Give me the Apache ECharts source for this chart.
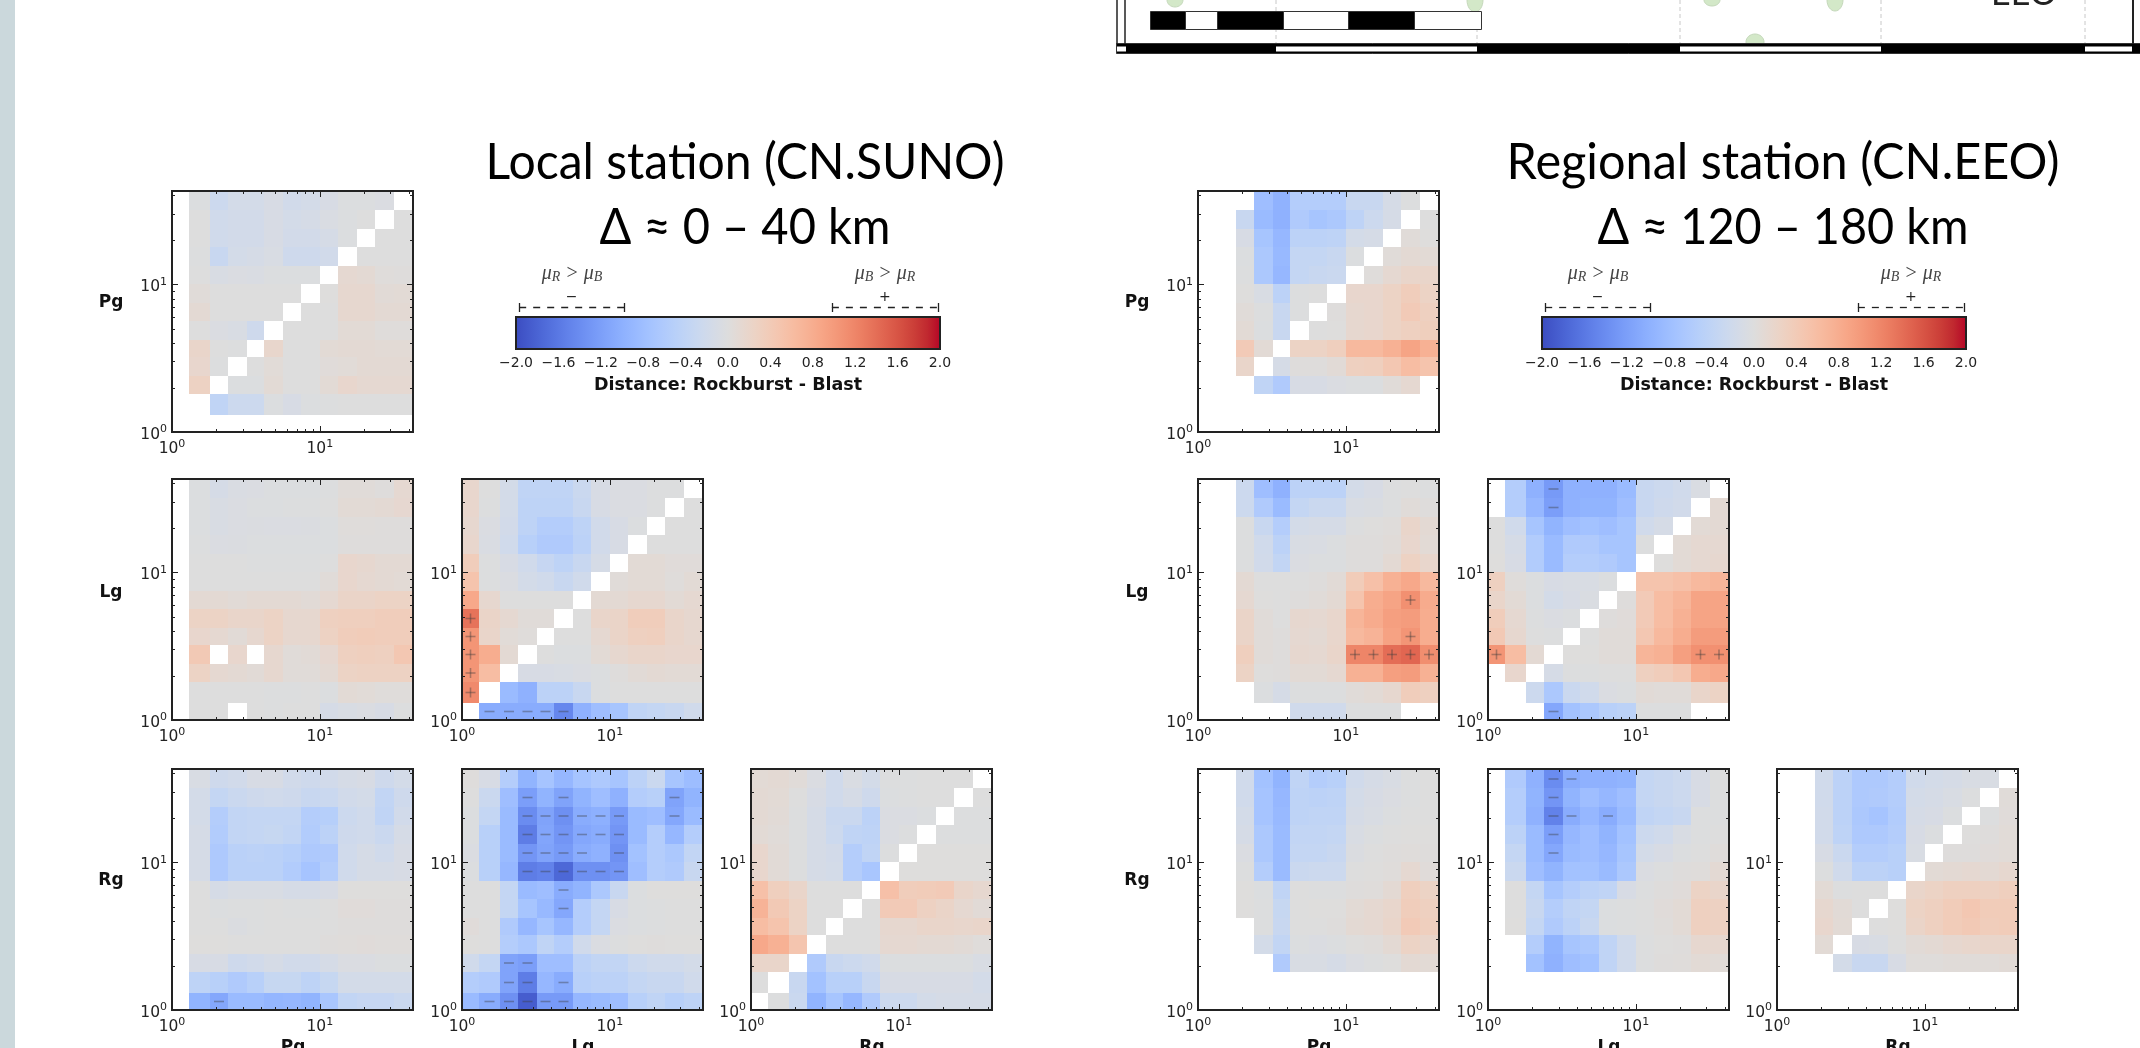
<!DOCTYPE html>
<html><head><meta charset="utf-8">
<style>html,body{margin:0;padding:0;background:#fff;overflow:hidden}#c{width:2140px;height:1048px;filter:blur(0.5px)}</style>
<script src="https://cdn.jsdelivr.net/npm/echarts@6/dist/echarts.min.js"></script>
</head><body><div id="c"></div>
<script>
const _ = null;
// Bin edges shared by every panel (log-spaced), rows below are listed top row first, 13 columns.
const binEdges = [1,1.3,1.8,2.4,3.2,4.2,5.6,7.5,10,13.3,17.8,23.7,31.6,42.2];
const tickValues = [1,2,3,4,5,6,7,8,9,10,20,30,40];
const colorbarTicks = [-2,-1.6,-1.2,-0.8,-0.4,0,0.4,0.8,1.2,1.6,2];
const bracketRanges = [[-1.97,-0.98],[0.98,1.98]];
const phases = ['Pg','Lg','Rg'];
const stations = ['Local station (CN.SUNO)','Regional station (CN.EEO)'];
const distances = ['Δ ≈ 0 – 40 km','Δ ≈ 120 – 180 km'];
const coolwarm = [[59,76,192],[68,90,204],[77,104,215],[87,117,225],[98,130,234],[108,142,241],[119,154,247],[130,165,251],[141,176,254],[152,185,255],[163,194,255],[174,201,253],[184,208,249],[194,213,244],[204,217,238],[213,219,230],[221,221,221],[229,216,209],[236,211,197],[241,204,185],[245,196,173],[247,187,160],[247,177,148],[247,166,135],[244,154,123],[241,141,111],[236,127,99],[229,112,88],[222,96,77],[213,80,66],[203,62,56],[192,40,47],[180,4,38]];

const localPgPg = [
[_,-.03,-.25,-.15,-.15,-.1,-.18,-.15,-.1,-.03,-.03,-.05,_],
[_,0,-.2,-.17,-.17,-.1,-.15,-.13,-.07,-.03,0,_,0],
[_,0,-.2,-.17,-.17,-.1,-.17,-.17,-.13,-.03,_,0,0],
[_,-.02,-.3,-.15,-.12,-.08,-.22,-.22,-.18,_,0,0,0],
[_,0,-.08,-.05,-.07,-.03,-.03,-.03,_,.12,.1,.03,.02],
[_,.05,0,0,0,0,0,_,.01,.15,.15,.07,.08],
[_,.1,0,0,0,0,_,0,0,.15,.15,.1,.1],
[_,0,-.05,-.08,-.22,_,0,0,0,.08,.08,.03,.03],
[_,.2,0,-.02,_,.18,0,0,.08,.1,.1,.08,.08],
[_,.17,-.02,_,0,.06,0,0,.04,.06,.1,.1,.1],
[_,.27,_,-.03,-.03,.08,0,0,.08,.17,.13,.13,.13],
[_,_,-.4,-.25,-.25,-.03,-.1,-.03,-.01,0,0,0,0],
[_,_,_,_,_,_,_,_,_,_,_,_,_]];
const localLgPg = [
[_,-.03,-.12,-.07,-.05,-.03,-.03,-.03,-.02,.05,.05,.02,.12],
[_,-.03,-.08,-.05,-.03,-.03,-.02,-.02,0,.08,.08,.1,.14],
[_,-.03,-.08,-.05,-.04,-.05,-.05,-.04,-.03,.03,.03,.02,.02],
[_,-.02,-.05,-.04,-.03,-.03,-.03,-.03,-.03,.02,.02,.02,.02],
[_,0,0,0,-.02,-.02,-.01,-.02,0,.17,.15,.1,.1],
[_,0,0,0,0,0,0,0,.05,.17,.12,.1,.08],
[_,.1,.1,.07,.1,.1,.1,.07,.13,.22,.22,.25,.25],
[_,.25,.25,.2,.2,.25,.15,.15,.3,.32,.32,.35,.35],
[_,.17,.12,.07,.15,.25,.15,.15,.27,.35,.37,.35,.35],
[_,.42,_,.17,_,.15,.05,.07,.14,.3,.32,.3,.45],
[_,.25,.12,.1,.07,.15,.05,.05,.1,.25,.27,.27,.27],
[_,0,0,0,0,-.02,-.02,0,-.03,.08,.06,.03,.03],
[_,0,0,_,0,-.02,0,0,-.12,-.08,-.05,-.1,-.02]];
const localLgLg = [
[.17,0,-.15,-.4,-.4,-.4,-.28,-.1,-.05,-.05,-.02,-.02,_],
[.17,-.02,-.15,-.42,-.42,-.42,-.3,-.1,-.05,-.05,-.02,_,0],
[.15,-.05,-.17,-.42,-.55,-.55,-.42,-.18,-.1,-.03,_,0,0],
[.17,-.07,-.2,-.5,-.6,-.6,-.45,-.18,-.1,_,0,0,0],
[.35,-.02,-.1,-.2,-.33,-.42,-.3,-.12,_,.08,.08,.04,.04],
[.5,-.02,-.05,-.15,-.2,-.3,-.2,_,.05,.08,.08,.03,.08],
[.85,.15,0,0,0,0,_,.1,.1,.15,.15,.08,.12],
[1.35,.22,.12,.05,.05,_,0,.2,.22,.35,.35,.2,.15],
[1.05,.2,.06,.03,_,0,0,.12,.22,.3,.32,.2,.15],
[1.05,.8,.1,_,0,-.03,-.03,.08,.15,.2,.2,.17,.17],
[1.05,.6,_,-.1,-.1,-.08,-.05,-.03,.02,.07,.1,.08,.08],
[1.15,_,-.85,-.98,-.45,-.45,-.3,-.03,0,0,0,0,0],
[_,-1.05,-1.05,-1.05,-1.05,-1.45,-.98,-.8,-.7,-.4,-.35,-.3,-.2]];
const localRgPg = [
[_,-.08,-.22,-.18,-.1,-.1,-.18,-.22,-.18,-.12,-.1,-.22,-.15],
[_,-.15,-.35,-.28,-.22,-.2,-.22,-.3,-.28,-.18,-.15,-.38,-.22],
[_,-.15,-.55,-.38,-.35,-.35,-.35,-.55,-.52,-.25,-.2,-.4,-.18],
[_,-.13,-.58,-.38,-.35,-.32,-.38,-.58,-.45,-.22,-.2,-.28,-.13],
[_,-.13,-.62,-.47,-.45,-.47,-.52,-.62,-.6,-.2,-.13,-.2,-.1],
[_,-.13,-.62,-.47,-.47,-.47,-.58,-.72,-.55,-.2,-.13,-.13,-.1],
[_,0,-.12,-.08,-.08,-.08,-.12,-.12,-.1,.01,.01,.01,.01],
[_,0,-.03,-.02,-.02,0,-.02,-.02,0,.04,.04,.02,.02],
[_,0,0,-.04,-.02,0,0,0,0,.02,.02,.02,.02],
[_,.01,.01,0,0,0,0,0,.02,.03,.04,.03,.03],
[_,-.1,-.1,-.22,-.18,-.13,-.18,-.18,-.13,-.05,-.05,-.03,-.03],
[_,-.42,-.5,-.6,-.5,-.32,-.32,-.42,-.32,-.15,-.15,-.15,-.15],
[_,-.95,-1.1,-.85,-.85,-.92,-.9,-.95,-.68,-.38,-.33,-.33,-.28]];
const localRgLg = [
[.02,-.1,-.55,-.95,-.72,-.9,-.72,-.62,-.7,-.45,-.28,-.7,-.82],
[0,-.28,-.8,-1.2,-.95,-1.15,-.95,-.8,-.98,-.55,-.5,-1.15,-.95],
[-.03,-.35,-.85,-1.4,-1.15,-1.35,-1.05,-1.0,-1.25,-.85,-.8,-1.1,-.85],
[-.03,-.5,-.85,-1.55,-1.12,-1.3,-1.1,-1.05,-1.3,-.85,-.55,-.9,-.55],
[-.05,-.5,-.85,-1.3,-1.15,-1.25,-1.05,-.98,-1.35,-.75,-.55,-.65,-.38],
[-.03,-.5,-.9,-1.55,-1.5,-1.75,-1.35,-1.35,-1.3,-.8,-.55,-.6,-.3],
[0,0,-.35,-.85,-.8,-1.05,-.95,-.65,-.3,-.03,.01,.01,.01],
[0,0,-.35,-.7,-.88,-1.1,-.55,-.35,-.1,-.03,-.02,0,0],
[.04,0,-.6,-.9,-.7,-.9,-.55,-.35,-.05,-.03,-.02,0,0],
[.01,0,-.55,-.65,-.4,-.55,-.2,-.05,-.02,.01,.02,.01,.01],
[-.2,-.35,-1.15,-1.2,-.8,-.8,-.45,-.38,-.38,-.25,-.2,-.2,-.15],
[-.55,-.6,-1.15,-1.55,-.9,-1.05,-.5,-.45,-.45,-.35,-.3,-.3,-.2],
[-.85,-1.05,-1.35,-1.85,-1.25,-1.25,-.9,-.85,-.8,-.5,-.4,-.5,-.42]];
const localRgRg = [
[.08,.1,.05,-.05,-.2,-.07,-.15,-.02,-.02,0,0,0,_],
[.1,.08,0,-.1,-.2,-.13,-.22,-.03,-.02,0,0,_,0],
[.1,.07,-.01,-.13,-.28,-.28,-.45,-.05,-.05,-.03,_,-.01,-.01],
[.08,.05,-.02,-.13,-.25,-.4,-.42,-.05,-.02,_,-.02,-.02,-.02],
[.17,.07,-.02,-.13,-.17,-.55,-.4,-.02,_,.01,.01,.01,.01],
[.17,.07,-.01,-.13,-.15,-.55,-.68,_,.01,.01,.01,.01,.01],
[.55,.32,.2,0,0,0,_,.55,.35,.38,.4,.2,.15],
[.72,.42,.25,0,0,_,0,.4,.4,.28,.22,.12,.07],
[.6,.5,.25,0,_,0,0,.15,.15,.2,.2,.18,.2],
[.85,.75,.48,_,0,0,0,.12,.12,.1,.1,.07,.03],
[.2,.2,_,-.6,-.3,-.25,-.2,-.03,-.03,-.03,-.03,-.03,-.08],
[0,_,-.3,-.75,-.5,-.5,-.3,-.1,-.1,-.1,-.1,-.1,-.15],
[_,-.01,-.28,-.95,-.7,-.9,-.6,-.25,-.25,-.15,-.12,-.13,-.13]];
const regionalPgPg = [
[_,_,_,-.8,-.97,-.55,-.55,-.55,-.3,-.3,-.12,-.02,_],
[_,_,-.3,-.85,-.98,-.6,-.7,-.65,-.42,-.25,-.12,_,0],
[_,_,-.1,-.7,-.9,-.45,-.45,-.42,-.15,-.12,_,.05,.01],
[_,_,-.03,-.65,-.88,-.35,-.35,-.3,-.03,_,.05,.1,.08],
[_,_,-.02,-.65,-.9,-.35,-.3,-.28,_,.03,.12,.2,.2],
[_,_,.01,-.08,-.45,-.02,0,_,.17,.17,.25,.35,.25],
[_,_,.05,-.02,-.3,-.02,_,.02,.15,.17,.25,.4,.3],
[_,_,.08,-.03,-.3,_,0,.01,.15,.17,.25,.3,.33],
[_,_,.4,.08,_,.25,.25,.32,.65,.65,.75,.9,.75],
[_,_,.2,_,-.12,.02,.02,.07,.3,.32,.45,.6,.5],
[_,_,_,-.4,-.6,-.1,-.1,-.05,-.03,-.03,.05,.12,_],
[_,_,_,_,_,_,_,_,_,_,_,_,_],
[_,_,_,_,_,_,_,_,_,_,_,_,_]];
const regionalLgPg = [
[_,_,-.25,-.8,-.98,-.45,-.45,-.45,-.15,-.1,-.02,0,-.01],
[_,_,-.25,-.6,-.85,-.35,-.28,-.28,-.08,-.06,-.02,.05,.02],
[_,_,-.02,-.3,-.55,-.15,-.12,-.12,-.01,.01,.03,.2,.1],
[_,_,-.02,-.2,-.45,-.08,-.07,-.03,.02,.02,.05,.17,.08],
[_,_,-.02,-.18,-.38,-.05,-.03,-.03,.02,.02,.1,.27,.18],
[_,_,.1,0,0,0,.02,.07,.38,.55,.75,.85,.65],
[_,_,.12,.01,0,.02,.05,.1,.5,.8,.9,1.1,.82],
[_,_,.22,.05,0,.15,.12,.18,.7,.82,.95,.98,.8],
[_,_,.22,.05,.02,.12,.1,.18,.65,.72,.92,1.05,.8],
[_,_,.32,.05,.02,.15,.12,.2,1.2,1.2,1.4,1.45,1.12],
[_,_,.25,.01,.02,.08,.08,.13,.75,.75,.95,.98,.75],
[_,_,_,-.03,-.12,-.02,-.02,-.02,.05,.08,.15,.35,.3],
[_,_,_,_,_,-.2,-.2,-.2,-.02,-.02,-.02,_,_]];
const regionalLgLg = [
[_,-.55,-.98,-1.25,-.98,-.98,-.98,-.85,-.3,-.25,-.2,-.07,_],
[_,-.55,-.9,-1.2,-.98,-.95,-.95,-.8,-.3,-.22,-.18,_,.1],
[0,-.2,-.7,-.95,-.8,-.75,-.8,-.7,-.2,-.12,_,.08,.1],
[0,-.12,-.58,-.85,-.6,-.6,-.7,-.7,-.02,_,.08,.12,.12],
[.01,-.1,-.58,-.85,-.55,-.55,-.6,-.7,_,.01,.08,.12,.15],
[.3,.03,-.03,-.1,-.08,-.08,-.03,_,.5,.5,.55,.65,.7],
[.2,.08,-.03,-.15,-.1,-.06,_,.02,.4,.6,.7,.9,.9],
[.35,.12,-.02,-.05,-.03,_,.02,.04,.4,.6,.75,.9,.9],
[.42,.15,0,-.01,_,0,.05,.05,.45,.65,.8,.98,.98],
[1.05,.6,.1,_,.01,.01,.05,.05,.7,.75,.95,1.1,1.1],
[_,.17,_,-.12,-.01,-.01,0,0,.3,.35,.45,.8,.85],
[_,_,-.25,-.65,-.28,-.2,-.05,-.03,.07,.05,.05,.2,.25],
[_,_,_,-1.1,-.75,-.65,-.5,-.45,-.02,-.01,-.01,_,_]];
const regionalRgPg = [
[_,_,-.2,-.75,-.95,-.4,-.55,-.5,-.2,-.12,-.08,-.01,0],
[_,_,-.2,-.72,-.9,-.42,-.45,-.42,-.15,-.1,-.05,-.01,0],
[_,_,-.15,-.72,-.88,-.42,-.4,-.4,-.13,-.08,-.03,0,0],
[_,_,-.12,-.65,-.85,-.38,-.38,-.35,-.08,-.03,0,.01,.01],
[_,_,-.05,-.65,-.85,-.35,-.35,-.3,-.04,0,.02,.03,.02],
[_,_,-.02,-.55,-.85,-.28,-.25,-.25,0,.01,.03,.12,.04],
[_,_,.01,-.03,-.4,0,-.01,-.01,.02,.03,.1,.32,.25],
[_,_,.01,-.02,-.32,0,.01,.01,.08,.12,.18,.35,.3],
[_,_,_,-.02,-.3,0,0,.02,.1,.12,.2,.4,.32],
[_,_,_,-.15,-.38,-.03,-.05,-.03,.01,.03,.1,.25,.2],
[_,_,_,_,-.6,-.08,-.08,-.13,-.05,-.01,.01,.1,.08],
[_,_,_,_,_,_,_,_,_,_,_,_,_],
[_,_,_,_,_,_,_,_,_,_,_,_,_]];
const regionalRgLg = [
[_,-.6,-.98,-1.4,-1.05,-.98,-.98,-.95,-.35,-.3,-.25,-.1,-.02],
[_,-.55,-.95,-1.3,-.95,-.8,-.9,-.8,-.35,-.3,-.25,-.1,-.02],
[_,-.55,-.98,-1.5,-1.05,-.9,-1.05,-.85,-.4,-.35,-.3,-.02,-.02],
[_,-.45,-.85,-1.2,-.9,-.8,-.95,-.75,-.25,-.2,-.08,-.02,0],
[_,-.35,-.85,-1.1,-.85,-.8,-.9,-.7,-.15,-.1,-.03,0,.03],
[_,-.28,-.8,-.95,-.75,-.75,-.85,-.65,-.05,-.02,.02,.03,.1],
[_,0,-.35,-.7,-.55,-.45,-.4,-.1,-.01,.02,.04,.25,.2],
[_,0,-.3,-.55,-.4,-.35,-.03,-.02,0,.04,.08,.3,.28],
[_,.01,-.35,-.6,-.45,-.3,-.03,-.01,0,.03,.08,.3,.28],
[_,_,-.55,-.95,-.7,-.65,-.4,-.2,-.01,.01,.02,.15,.15],
[_,_,-.75,-.98,-.8,-.75,-.4,-.2,-.02,.02,.03,.08,.06],
[_,_,_,_,_,_,_,_,_,_,_,_,_],
[_,_,_,_,_,_,_,_,_,_,_,_,_]];
const regionalRgRg = [
[_,_,-.2,-.45,-.62,-.62,-.55,-.2,-.15,-.12,-.08,-.08,_],
[_,_,-.2,-.45,-.62,-.6,-.55,-.15,-.12,-.08,-.02,_,.05],
[_,_,-.18,-.45,-.65,-.72,-.58,-.12,-.1,-.03,_,-.01,.04],
[_,_,-.18,-.42,-.62,-.62,-.55,-.1,-.03,_,.01,.02,.06],
[_,_,-.1,-.28,-.55,-.55,-.5,-.08,_,.02,.02,.04,.06],
[_,_,-.02,-.2,-.45,-.45,-.5,_,.08,.1,.12,.1,.15],
[_,_,.08,-.01,0,0,_,.2,.25,.3,.3,.28,.32],
[_,_,.15,.07,0,_,.01,.25,.3,.38,.45,.38,.38],
[_,_,.17,.08,_,0,.01,.22,.3,.38,.42,.35,.38],
[_,_,.08,_,-.1,-.08,0,.07,.1,.15,.18,.2,.2],
[_,_,_,-.15,-.3,-.3,-.1,.03,.03,.05,.05,.05,.07],
[_,_,_,_,_,_,_,_,_,_,_,_,_],
[_,_,_,_,_,_,_,_,_,_,_,_,_]];

// ---- layout & style (separate from the values) ----
const AXIS_MAX = 42.7;
const colLeft = [[172,462,751],[1198,1488,1777]];
const rowTop = [191,479,769];
const SIZE = 241;
const panels = [
 [localPgPg,0,0,0],[localLgPg,0,1,0],[localLgLg,0,1,1],[localRgPg,0,2,0],[localRgLg,0,2,1],[localRgRg,0,2,2],
 [regionalPgPg,1,0,0],[regionalLgPg,1,1,0],[regionalLgLg,1,1,1],[regionalRgPg,1,2,0],[regionalRgLg,1,2,1],[regionalRgRg,1,2,2]
];
const FG='#222', SANS='"DejaVu Sans"';

function cw(v){
  const t=Math.max(0,Math.min(1,(v+2)/4))*(coolwarm.length-1), i=Math.min(coolwarm.length-2,Math.floor(t)), f=t-i;
  const c=coolwarm[i].map((a,k)=>Math.round(a+(coolwarm[i+1][k]-a)*f));
  return `rgb(${c[0]},${c[1]},${c[2]})`;
}
function heatItem(params,api){
  const a=api.coord([api.value(0),api.value(2)]), b=api.coord([api.value(1),api.value(3)]), v=api.value(4);
  const x0=Math.round(a[0]),x1=Math.round(b[0]),y1=Math.round(a[1]),y0=Math.round(b[1]);
  const ch=[{type:'rect',shape:{x:x0,y:y0,width:x1-x0,height:y1-y0},style:{fill:cw(v)}}];
  const cx=(x0+x1)/2,cy=(y0+y1)/2,ms=5,ls={stroke:'rgba(60,60,60,0.4)',lineWidth:1.6,fill:null};
  if(Math.abs(v)>=1) ch.push({type:'line',shape:{x1:cx-ms,y1:cy,x2:cx+ms,y2:cy},style:ls});
  if(v>=1) ch.push({type:'line',shape:{x1:cx,y1:cy-ms,x2:cx,y2:cy+ms},style:ls});
  return {type:'group',children:ch};
}
function tickItem(params,api){
  const cs=params.coordSys,t=api.value(0),p=api.coord([t,t]),L=(t===1||t===10)?6:3,ch=[];
  const ls={stroke:FG,lineWidth:1,fill:null};
  const X=Math.round(p[0])+.5,Y=Math.round(p[1])+.5;
  ch.push({type:'line',shape:{x1:X,y1:cs.y+cs.height,x2:X,y2:cs.y+cs.height-L},style:ls});
  ch.push({type:'line',shape:{x1:X,y1:cs.y,x2:X,y2:cs.y+L},style:ls});
  ch.push({type:'line',shape:{x1:cs.x,y1:Y,x2:cs.x+L,y2:Y},style:ls});
  ch.push({type:'line',shape:{x1:cs.x+cs.width,y1:Y,x2:cs.x+cs.width-L,y2:Y},style:ls});
  if(params.dataIndex===0) ch.push({type:'rect',shape:{x:cs.x,y:cs.y,width:cs.width,height:cs.height},style:{fill:null,stroke:'#222',lineWidth:2}});
  return {type:'group',children:ch};
}
function supLabel(v){
  const e=Math.log10(v);
  return Math.abs(e-Math.round(e))<1e-6 ? `{b|10}{s|${Math.round(e)}}` : '';
}
const grids=[],xAxes=[],yAxes=[],series=[];
const labelRich={b:{fontFamily:SANS,fontSize:15.5,color:FG,padding:[5,0,0,0]},s:{fontFamily:SANS,fontSize:11,color:FG,padding:[0,0,5,0]}};
panels.forEach(([m,st,r,c])=>{
  const i=grids.length;
  grids.push({left:colLeft[st][c],top:rowTop[r],width:SIZE,height:SIZE,containLabel:false});
  const ax={type:'log',logBase:10,min:1,max:AXIS_MAX,gridIndex:i,splitLine:{show:false},axisLine:{show:false},axisTick:{show:false},minorTick:{show:false},minorSplitLine:{show:false}};
  xAxes.push({...ax,axisLabel:{formatter:supLabel,rich:labelRich,margin:4,hideOverlap:false,showMinLabel:true}});
  yAxes.push({...ax,axisLabel:{formatter:supLabel,rich:labelRich,margin:5,hideOverlap:false,showMinLabel:true}});
  const data=[];
  m.forEach((row,ri)=>row.forEach((v,ci)=>{
    if(v===null) return;
    const k=12-ri;
    data.push([binEdges[ci],binEdges[ci+1],binEdges[k],binEdges[k+1],v]);
  }));
  series.push({type:'custom',xAxisIndex:i,yAxisIndex:i,renderItem:heatItem,data,encode:{x:[0,1],y:[2,3]},silent:true,animation:false,z:2});
  series.push({type:'custom',xAxisIndex:i,yAxisIndex:i,renderItem:tickItem,data:tickValues.map(t=>[t]),encode:{x:0,y:0},silent:true,animation:false,z:5,clip:false});
});
// colorbars
const cbLeft=[516,1542], cbTop=317, cbW=424, cbH=32;
const gradStops=coolwarm.map((c,i)=>({offset:i/(coolwarm.length-1),color:`rgb(${c[0]},${c[1]},${c[2]})`}));
cbLeft.forEach(l=>{
  const i=grids.length;
  grids.push({left:l,top:cbTop,width:cbW,height:cbH});
  xAxes.push({type:'value',gridIndex:i,min:-2,max:2,interval:.4,splitLine:{show:false},axisLine:{show:false},
    axisTick:{show:true,inside:true,length:5,lineStyle:{color:FG,width:1}},
    axisLabel:{fontFamily:SANS,fontSize:14,color:FG,margin:7,showMinLabel:true,showMaxLabel:true,formatter:v=>v.toFixed(1).replace('-','−')}});
  yAxes.push({type:'value',gridIndex:i,min:0,max:1,show:false});
  series.push({type:'custom',xAxisIndex:i,yAxisIndex:i,silent:true,animation:false,z:2,encode:{x:[0,1],y:[2,3]},data:[[colorbarTicks[0],colorbarTicks[10],0,1]],
    renderItem(p,api){
      const a=api.coord([api.value(0),api.value(2)]),b=api.coord([api.value(1),api.value(3)]);
      return {type:'rect',shape:{x:a[0],y:b[1],width:b[0]-a[0],height:a[1]-b[1]},
        style:{fill:{type:'linear',x:0,y:0,x2:1,y2:0,colorStops:gradStops},stroke:'#222',lineWidth:2}};
    }});
  series.push({type:'custom',xAxisIndex:i,yAxisIndex:i,silent:true,animation:false,z:3,clip:false,encode:{x:[0,1],y:[2,2]},data:bracketRanges.map(b=>[b[0],b[1],1]),
    renderItem(p,api){
      const a=api.coord([api.value(0),1]),b=api.coord([api.value(1),1]),y=p.coordSys.y-9.5;
      const ls={stroke:'#222',lineWidth:1.3,fill:null};
      return {type:'group',children:[
        {type:'line',shape:{x1:a[0],y1:y,x2:b[0],y2:y},style:{...ls,lineDash:[7,7]}},
        {type:'line',shape:{x1:Math.round(a[0])+.5,y1:y-4.5,x2:Math.round(a[0])+.5,y2:y+4.5},style:ls},
        {type:'line',shape:{x1:Math.round(b[0])+.5,y1:y-4.5,x2:Math.round(b[0])+.5,y2:y+4.5},style:ls},
        {type:'text',style:{text:p.dataIndex===0?'−':'+',x:(a[0]+b[0])/2,y:y-10,align:'center',verticalAlign:'middle',font:'14px "DejaVu Sans"',fill:'#222'}}
      ]};
    }});
});
// static page furniture
const g=[];
const T=(text,x,y,font,extra,props)=>g.push({type:'text',silent:true,...props,style:{text,x,y,font,fill:'#000',align:'center',verticalAlign:'middle',...extra}});
const R=(x,y,w,h,fill,stroke)=>g.push({type:'rect',silent:true,shape:{x,y,width:w,height:h},style:{fill,stroke:stroke||null,lineWidth:1}});
R(0,0,15,1048,'#cbd8dc');
const titleFont='51px Lato';
const ctx=document.createElement('canvas').getContext('2d'); ctx.font=titleFont;
const fitted=(s,w)=>w/ctx.measureText(s).width;
const titleWidths=[[519,291],[553,371]], titleCx=[745,1783];
titleCx.forEach((cx,i)=>{
  T(stations[i],cx,163,titleFont,{},{scaleX:fitted(stations[i],titleWidths[i][0]),originX:cx,originY:163});
  T(distances[i],cx,228,titleFont,{},{scaleX:fitted(distances[i],titleWidths[i][1]),originX:cx,originY:228});
});
[0,1].forEach(i=>{
  const l=cbLeft[i];
  T('Distance: Rockburst - Blast',l+212,385,'bold 17.5px "DejaVu Sans"',{fill:'#111'});
  const rich={i:{fontFamily:'"Liberation Serif"',fontStyle:'italic',fontSize:20,fill:'#444',color:'#444'},s:{fontFamily:'"Liberation Serif"',fontStyle:'italic',fontSize:14,fill:'#444',color:'#444',padding:[6,0,0,0]}};
  T('{i|μ}{s|R}{i| > μ}{s|B}',l+56,274,'20px "Liberation Serif"',{rich});
  T('{i|μ}{s|B}{i| > μ}{s|R}',l+369,274,'20px "Liberation Serif"',{rich});
});
const rowLabelY=[303,593,881], rowLabelX=[111,1137], colLabelX=[[293,583,872],[1319,1609,1898]];
phases.forEach((ph,r)=>{
  rowLabelX.forEach(x=>T(ph,x,rowLabelY[r],'bold 17px "DejaVu Sans"',{fill:'#111'}));
  colLabelX.forEach(a=>T(ph,a[r],1048,'bold 17px "DejaVu Sans"',{fill:'#111'}));
});
// cropped map frame at the top right
const frameSegs=[[1126,1276,'#000'],[1276,1477,'#fff'],[1477,1680,'#000'],[1680,1881,'#fff'],[1881,2085,'#000'],[2085,2132,'#fff'],[2132,2140,'#000'],[1117,1126,'#fff']];
[1276,1477,1680,1881,2085].forEach(x=>g.push({type:'line',silent:true,shape:{x1:x,y1:0,x2:x,y2:43},style:{stroke:'#c8c8c8',lineWidth:1,lineDash:[4,3]}}));
[[1175,0,8,7],[1475,0,8,12],[1712,0,8,6],[1835,0,8,11],[1755,42,9,8]].forEach(e=>g.push({type:'ellipse',silent:true,shape:{cx:e[0],cy:e[1],rx:e[2],ry:e[3]},style:{fill:'#d3e8c8',stroke:'#c5d8bb',lineWidth:1}}));
R(1116.5,43.5,1030,10,'#000','#333');
frameSegs.forEach(s=>R(s[0],46.5,s[1]-s[0],5,s[2]));
[1117,1125].forEach(x=>g.push({type:'line',silent:true,shape:{x1:x,y1:0,x2:x,y2:44},style:{stroke:'#222',lineWidth:1.5}}));
g.push({type:'line',silent:true,shape:{x1:2133,y1:0,x2:2133,y2:44},style:{stroke:'#222',lineWidth:2}});
[[1150,1185,'#000'],[1185,1217,'#fff'],[1217,1283,'#000'],[1283,1348,'#fff'],[1348,1414,'#000'],[1414,1481,'#fff']].forEach(s=>R(s[0]+.5,11.5,s[1]-s[0],18,s[2],'#333'));
T('EEO',2024,-6,'34px Lato',{fill:'#222'});

const chart=echarts.init(document.getElementById('c'),null,{renderer:'canvas'});
chart.setOption({animation:false,backgroundColor:'#fff',grid:grids,xAxis:xAxes,yAxis:yAxes,series,graphic:{elements:g}});
</script></body></html>
